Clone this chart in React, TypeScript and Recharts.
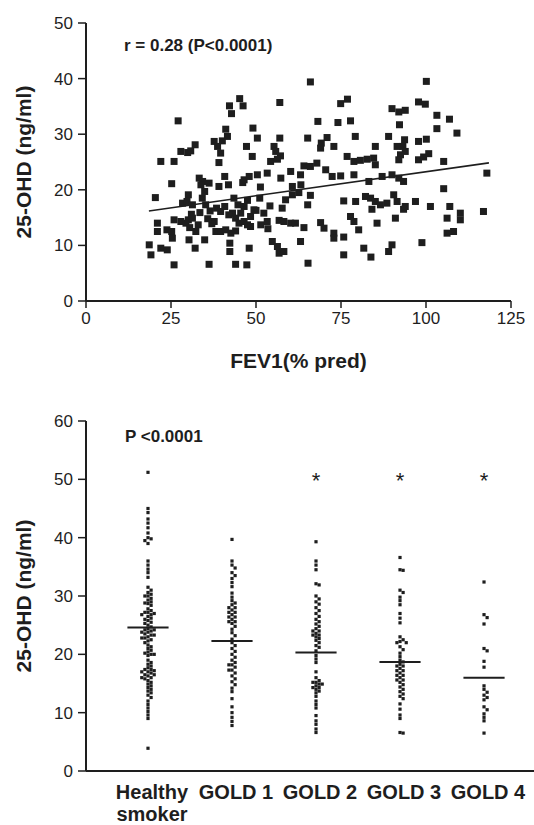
import React from 'react'
import { ScatterChart, Scatter, XAxis, YAxis, ReferenceLine } from 'recharts'

// FEV1 (% pred) vs 25-OHD (ng/ml)
const fev1VsOhd: [number, number][] = [
  [66.0, 39.4], [100.1, 39.5], [45.2, 36.4], [46.2, 35.1], [42.2, 35.1], [42.8, 33.7], [57.0, 35.7],
  [74.9, 35.5], [76.9, 36.3], [97.8, 35.8], [99.8, 35.4], [27.1, 32.4], [68.2, 32.3], [74.1, 32.1],
  [77.8, 32.4], [103.2, 33.4], [106.9, 32.7], [90.0, 34.6], [92.0, 34.0], [93.9, 34.3], [92.2, 31.7],
  [103.2, 31.0], [109.1, 30.2], [41.1, 30.9], [49.1, 31.1], [41.6, 29.6], [40.1, 28.8], [50.4, 29.3],
  [57.0, 29.3], [65.2, 29.3], [70.9, 29.4], [69.2, 28.4], [69.0, 27.5], [79.2, 29.6], [89.0, 29.6],
  [93.7, 29.0], [93.2, 27.8], [91.5, 27.8], [93.9, 26.9], [92.5, 26.3], [92.0, 25.4], [97.8, 28.7],
  [100.1, 29.1], [37.7, 28.7], [38.7, 27.8], [39.6, 26.6], [47.2, 27.8], [55.3, 27.8], [72.9, 27.8],
  [85.1, 27.8], [32.1, 28.1], [27.9, 26.9], [29.9, 26.7], [30.8, 27.0], [48.9, 26.0], [55.8, 26.9],
  [57.2, 26.1], [76.8, 26.0], [78.8, 25.1], [80.7, 25.3], [82.7, 25.5], [84.6, 25.7], [97.8, 25.4],
  [99.3, 25.9], [100.8, 26.5], [22.0, 25.1], [25.9, 25.1], [39.1, 24.9], [54.3, 25.1], [56.3, 25.5],
  [64.1, 24.3], [66.0, 24.2], [67.9, 24.8], [85.1, 24.5], [105.2, 25.1], [117.9, 23.0], [60.2, 23.3],
  [63.1, 22.7], [70.5, 23.6], [72.4, 22.4], [74.9, 22.5], [78.8, 22.7], [90.0, 22.7], [92.0, 22.1],
  [93.4, 21.5], [33.3, 22.1], [34.3, 21.5], [36.2, 21.2], [40.8, 22.4], [46.5, 21.8], [48.0, 22.4],
  [50.4, 22.7], [53.3, 23.0], [57.3, 22.1], [83.2, 21.5], [87.1, 22.4],
  [20.4, 18.6], [25.2, 21.1], [33.8, 20.9], [34.9, 19.7], [39.1, 20.6], [41.9, 20.9], [46.1, 21.3],
  [51.3, 20.5], [60.7, 20.6], [63.2, 20.9], [105.2, 20.2], [30.1, 19.1], [28.4, 17.6], [29.7, 17.9],
  [31.3, 17.3], [34.2, 18.5], [35.2, 17.3], [38.4, 16.7], [39.6, 16.1], [40.8, 17.0], [43.5, 18.5],
  [44.7, 17.3], [46.5, 17.0], [47.5, 18.1], [51.1, 18.5], [54.1, 17.1], [57.7, 16.7], [58.7, 18.2],
  [60.7, 19.1], [62.6, 19.5], [65.2, 17.3], [66.0, 19.0], [75.8, 18.0], [79.3, 17.9], [82.2, 18.8],
  [83.7, 18.5], [85.1, 17.9], [86.6, 17.3], [88.5, 17.6], [90.5, 19.1], [91.5, 17.9], [93.4, 16.5],
  [93.9, 17.0], [96.9, 17.9], [101.3, 17.0], [107.0, 17.0], [116.9, 16.1], [84.1, 16.5], [21.0, 14.0],
  [21.0, 12.5], [23.8, 12.8], [25.9, 14.6], [25.2, 12.5], [25.4, 11.3], [27.9, 14.3], [29.4, 14.0],
  [30.1, 14.6], [31.3, 14.9], [33.0, 13.7], [32.3, 12.5], [30.3, 11.0], [34.9, 11.0], [38.2, 12.5],
  [39.6, 12.5], [41.1, 12.8], [42.6, 12.2], [37.7, 14.3], [44.0, 14.9], [45.0, 14.0], [46.5, 14.3],
  [47.5, 13.7], [48.4, 15.2], [48.4, 13.4], [51.4, 13.7], [53.3, 14.3], [56.8, 14.5], [58.2, 14.3],
  [60.2, 14.0], [61.6, 14.0], [64.1, 13.2], [69.0, 14.1], [70.0, 13.1], [72.9, 12.2], [72.9, 11.3],
  [75.8, 11.5], [77.8, 15.2], [78.8, 14.3], [80.2, 12.8], [85.6, 14.0], [91.0, 14.9], [106.2, 14.9],
  [106.2, 12.2], [108.1, 12.5], [110.1, 15.8], [110.1, 14.6], [98.8, 10.5], [18.6, 10.1], [19.1, 8.3],
  [22.0, 9.5], [23.9, 9.2], [32.1, 9.5], [42.3, 10.4], [42.3, 8.9], [48.0, 9.5], [54.8, 10.7],
  [56.3, 9.8], [56.8, 8.6], [58.2, 8.9], [63.1, 10.7], [75.8, 8.3], [81.7, 9.5], [83.8, 7.9],
  [89.0, 8.9], [90.0, 10.1], [25.9, 6.5], [36.2, 6.6], [44.0, 6.6], [47.3, 6.5], [65.3, 6.8],
  [43.1, 15.8], [49.4, 16.4], [52.3, 15.8], [31.0, 15.6], [33.5, 15.9], [36.5, 16.2], [42.0, 15.5],
  [45.5, 15.8], [50.0, 16.3], [37.0, 13.9], [44.0, 12.6], [53.5, 13.0], [30.5, 13.2], [35.8, 14.8],
]
const trendLine = [{ x: 18.5, y: 16.2 }, { x: 118.5, y: 24.85 }]
const topTicksX = [0, 25, 50, 75, 100, 125]
const topTicksY = [0, 10, 20, 30, 40, 50]

// bottom panel: 25-OHD by group
const categories = ['Healthy\nsmoker', 'GOLD 1', 'GOLD 2', 'GOLD 3', 'GOLD 4']
const healthySmoker = [
  51.2, 45.0, 44.3, 43.2, 42.5, 41.7, 40.8, 40.0, 39.8, 39.5, 39.0, 36.0, 35.3, 34.6, 34.0, 33.2,
  31.5, 31.0, 30.6, 30.3, 30.0, 30.0, 29.6, 29.3, 29.0, 28.8, 28.7, 28.4, 27.8, 27.5, 27.2, 27.2,
  27.0, 26.8, 26.8, 26.5, 26.2, 26.0, 25.8, 25.5, 25.3, 25.0, 24.7, 24.4, 24.2, 24.2, 24.0, 23.8,
  23.8, 23.5, 23.3, 23.3, 23.0, 22.8, 22.8, 22.5, 22.3, 22.0, 21.6, 21.3, 21.0, 20.7, 20.4, 20.2,
  20.0, 20.0, 19.8, 19.0, 18.6, 18.3, 18.0, 17.7, 17.4, 17.4, 17.2, 17.0, 17.0, 16.8, 16.5, 16.5,
  16.3, 16.0, 16.0, 15.8, 15.5, 15.2, 14.9, 14.6, 14.3, 14.0, 13.7, 13.4, 13.0, 12.6, 12.0, 11.4,
  10.8, 10.2, 9.6, 9.0, 3.9,
]
const gold1 = [
  39.7, 36.0, 35.3, 34.8, 34.0, 33.5, 33.0, 32.3, 31.6, 30.5, 29.8, 29.2, 28.8, 28.5, 28.0, 28.0,
  27.6, 27.2, 27.2, 26.8, 26.4, 26.4, 26.0, 25.6, 25.6, 25.3, 24.8, 24.3, 23.7, 23.2, 22.6, 22.0,
  21.5, 21.0, 20.5, 20.0, 19.5, 19.0, 18.6, 18.2, 18.2, 17.8, 17.3, 17.3, 16.8, 16.3, 15.8, 15.3,
  14.8, 14.2, 13.6, 12.4, 11.0, 10.0, 9.2, 8.5, 7.8,
]
const gold2 = [
  39.3, 36.0, 35.3, 34.5, 32.1, 31.9, 30.0, 29.5, 29.0, 28.6, 28.0, 27.5, 27.0, 26.5, 26.0, 25.6,
  25.2, 24.8, 24.4, 24.0, 24.0, 23.6, 23.3, 23.3, 23.0, 22.7, 22.4, 22.0, 21.5, 21.2, 20.6, 19.8,
  19.2, 18.6, 17.0, 16.0, 15.5, 15.2, 15.2, 14.9, 14.9, 14.6, 14.3, 14.3, 14.0, 13.7, 13.4, 12.8,
  12.0, 11.4, 10.8, 9.5, 8.6, 8.0, 7.2, 6.6,
]
const gold3 = [
  36.6, 34.5, 34.4, 31.0, 30.6, 29.8, 29.2, 28.5, 27.0, 26.2, 25.4, 23.0, 22.5, 22.2, 22.0, 22.0,
  21.3, 20.8, 20.2, 19.6, 19.0, 18.7, 18.3, 18.0, 18.0, 17.6, 17.2, 17.2, 16.8, 16.4, 16.4, 16.0,
  15.6, 15.6, 15.2, 14.8, 14.4, 14.0, 13.6, 13.2, 12.8, 12.4, 11.5, 10.6, 9.6, 9.0, 6.6, 6.5,
]
const gold4 = [
  32.4, 26.8, 26.3, 25.2, 21.0, 20.6, 18.8, 17.8, 14.6, 14.0, 13.5, 13.0, 12.6, 12.2, 11.0, 10.5,
  9.8, 9.2, 8.6, 6.5,
]
const groups = [healthySmoker, gold1, gold2, gold3, gold4]
const groupMeans = [24.6, 22.3, 20.3, 18.7, 16.0]
const starredGroups = [3, 4, 5]
const starLevel = 50.6
const bottomTicksY = [0, 10, 20, 30, 40, 50, 60]

const INK = '#1e1e1e'
const FONT = '"Liberation Sans", Arial, Helvetica, sans-serif'
const SLOT = 0.037
const HALF_BAR = 0.245

// spread equal values sideways like a dot plot (deterministic)
function swarm(values: number[], center: number) {
  const placed: { slot: number; y: number }[] = []
  const order = (n: number) => (n % 2 === 1 ? (n + 1) / 2 : -n / 2)
  return [...values].sort((a, b) => b - a).map(y => {
    let k = 0
    while (placed.some(p => p.slot === order(k) && Math.abs(p.y - y) < 0.55)) k++
    placed.push({ slot: order(k), y })
    return { x: center + order(k) * SLOT, y }
  })
}

const topPoints = fev1VsOhd.map(([x, y]) => ({ x, y }))
const dotPoints = groups.flatMap((vals, i) => swarm(vals, i + 1))
const starPoints = starredGroups.map(g => ({ x: g, y: starLevel }))

const BigSquare = (p: any) => <rect x={p.cx - 3.5} y={p.cy - 3.5} width={7} height={7} fill={INK} />
const SmallSquare = (p: any) => <rect x={p.cx - 1.6} y={p.cy - 1.6} width={3.2} height={3.2} fill={INK} />
const Star = (p: any) => (
  <text x={p.cx} y={p.cy + 12} textAnchor="middle" fontSize={22} fontFamily={FONT} fill={INK}>*</text>
)

const CategoryTick = ({ x, y, payload }: any) => {
  const lines = categories[Math.round(payload.value) - 1].split('\n')
  return (
    <text x={x + 4} y={y} textAnchor="middle" fill={INK} fontSize={20} fontWeight="bold" fontFamily={FONT}>
      {lines.map((l, i) => (
        <tspan key={i} x={x + 4} dy={i === 0 ? 20 : 22}>{l}</tspan>
      ))}
    </text>
  )
}

const tickStyle = { fill: INK, fontSize: 17, fontFamily: FONT }
const axisLine = { stroke: INK, strokeWidth: 2 }
const tickLine = { stroke: INK, strokeWidth: 1.5 }
const titleStyle = { fill: INK, fontSize: 21, fontWeight: 'bold', fontFamily: FONT, textAnchor: 'middle' as const }

export default function App() {
  return (
    <div style={{ position: 'absolute', left: 0, top: 0, width: 534, height: 825, background: '#fff' }}>
      <div style={{ position: 'absolute', left: 0, top: 0 }}>
        <ScatterChart width={534} height={380} margin={{ top: 23, right: 23, bottom: 0, left: 0 }}>
          <XAxis
            type="number" dataKey="x" domain={[0, 125]} ticks={topTicksX} interval={0}
            height={79} tickSize={7} tickMargin={4}
            axisLine={axisLine} tickLine={tickLine} tick={tickStyle}
            label={{ value: 'FEV1(% pred)', position: 'insideBottom', offset: 12, style: titleStyle }}
          />
          <YAxis
            type="number" dataKey="y" domain={[0, 50]} ticks={topTicksY} interval={0}
            width={86} tickSize={8} tickMargin={5}
            axisLine={axisLine} tickLine={tickLine} tick={tickStyle}
            label={{ value: '25-OHD (ng/ml)', angle: -90, position: 'insideLeft', offset: 24, style: titleStyle }}
          />
          <Scatter data={topPoints} shape={BigSquare} isAnimationActive={false} />
          <ReferenceLine segment={trendLine} stroke={INK} strokeWidth={1.6} ifOverflow="visible" />
          <text x={124} y={51} fontSize={17} fontWeight="bold" fontFamily={FONT} fill={INK}>
            r = 0.28 (P&lt;0.0001)
          </text>
        </ScatterChart>
      </div>
      <div style={{ position: 'absolute', left: 0, top: 390 }}>
        <ScatterChart width={534} height={435} margin={{ top: 31, right: 0, bottom: 0, left: 0 }}>
          <XAxis
            type="number" dataKey="x" domain={[0.262, 5.595]} ticks={[1, 2, 3, 4, 5]} interval={0}
            allowDataOverflow height={54} tickLine={false} axisLine={axisLine} tick={<CategoryTick />}
          />
          <YAxis
            type="number" dataKey="y" domain={[0, 60]} ticks={bottomTicksY} interval={0}
            width={86} tickSize={8} tickMargin={5}
            axisLine={axisLine} tickLine={tickLine} tick={tickStyle}
            label={{ value: '25-OHD (ng/ml)', angle: -90, position: 'insideLeft', offset: 24, style: titleStyle }}
          />
          <Scatter data={dotPoints} shape={SmallSquare} isAnimationActive={false} />
          <Scatter data={starPoints} shape={Star} isAnimationActive={false} />
          {groupMeans.map((m, i) => (
            <ReferenceLine
              key={i}
              segment={[{ x: i + 1 - HALF_BAR, y: m }, { x: i + 1 + HALF_BAR, y: m }]}
              stroke={INK} strokeWidth={2}
            />
          ))}
          <text x={125} y={52} fontSize={17} fontWeight="bold" fontFamily={FONT} fill={INK}>
            P &lt;0.0001
          </text>
        </ScatterChart>
      </div>
    </div>
  )
}
